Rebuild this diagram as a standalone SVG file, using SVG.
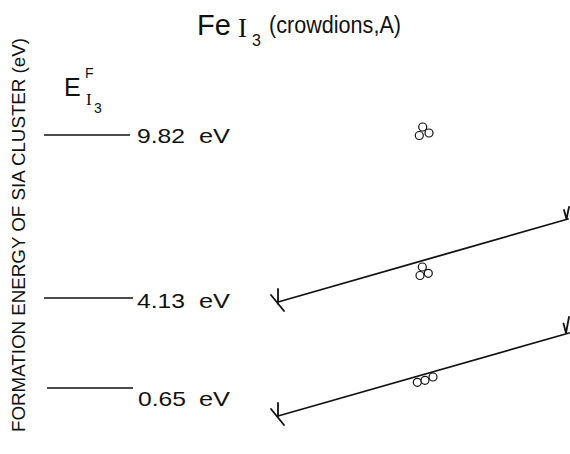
<svg xmlns="http://www.w3.org/2000/svg" width="570" height="454" viewBox="0 0 570 454">
<style>
.t{font-family:"Liberation Sans",Arial,sans-serif;fill:#111}
.s{font-family:"Liberation Serif","Times New Roman",serif;fill:#111}
.lvl{stroke:#111;stroke-width:1.5;fill:none}
.arr{stroke:#111;stroke-width:1.8;fill:none;stroke-linecap:round;stroke-linejoin:round}
.atom{stroke:#111;stroke-width:1.2;fill:#fff}
.v{font-size:21px}
</style>
<rect width="570" height="454" fill="#fff"/>
<g id="title">
<text class="t" x="197" y="35" font-size="29">Fe</text>
<text class="s" x="238" y="37" font-size="27">I</text>
<text class="t" x="252" y="46" font-size="16">3</text>
<text class="t" x="269" y="33" font-size="23" textLength="132" lengthAdjust="spacingAndGlyphs">(crowdions,A)</text>
</g>
<g id="axis-label">
<text class="t" transform="translate(25,432) rotate(-90)" font-size="19" textLength="394" lengthAdjust="spacingAndGlyphs">FORMATION ENERGY OF SIA CLUSTER (eV)</text>
</g>
<g id="symbol">
<text class="t" x="64" y="96" font-size="25">E</text>
<text class="t" x="85" y="78" font-size="14">F</text>
<text class="s" x="86" y="105" font-size="17">I</text>
<text class="t" x="94" y="113" font-size="14">3</text>
</g>
<g id="level-982">
<line class="lvl" x1="44" y1="135" x2="130" y2="135"/>
<text class="t v" x="137" y="143" textLength="48" lengthAdjust="spacingAndGlyphs">9.82</text>
<text class="t v" x="199" y="143" textLength="31" lengthAdjust="spacingAndGlyphs">eV</text>
</g>
<g id="level-413">
<line class="lvl" x1="44" y1="298" x2="133" y2="298"/>
<text class="t v" x="137" y="308" textLength="48" lengthAdjust="spacingAndGlyphs">4.13</text>
<text class="t v" x="199" y="308" textLength="31" lengthAdjust="spacingAndGlyphs">eV</text>
</g>
<g id="level-065">
<line class="lvl" x1="47" y1="388" x2="133" y2="388"/>
<text class="t v" x="138" y="406" textLength="48" lengthAdjust="spacingAndGlyphs">0.65</text>
<text class="t v" x="199" y="406" textLength="31" lengthAdjust="spacingAndGlyphs">eV</text>
</g>
<g id="cluster-top">
<circle class="atom" cx="422.7" cy="127" r="4"/>
<circle class="atom" cx="419.3" cy="135.5" r="4"/>
<circle class="atom" cx="429" cy="133" r="4"/>
</g>
<g id="cluster-mid">
<circle class="atom" cx="422.3" cy="267" r="4"/>
<circle class="atom" cx="420" cy="275.5" r="4"/>
<circle class="atom" cx="428.3" cy="273.3" r="4"/>
</g>
<g id="cluster-bot">
<circle class="atom" cx="417.3" cy="382.3" r="4"/>
<circle class="atom" cx="425" cy="380.3" r="4"/>
<circle class="atom" cx="433" cy="377" r="4"/>
</g>
<g id="connectors">
<path class="arr" d="M278,302 L568,219 M271,295 L284,311 M278,289 L278,304 M564,210 L566.5,219 L569,207"/>
<path class="arr" d="M278,416 L569,333 M271,409 L284,425 M278,403 L278,417 M563.5,323.5 L566,333 L569,317"/>
</g>
</svg>
